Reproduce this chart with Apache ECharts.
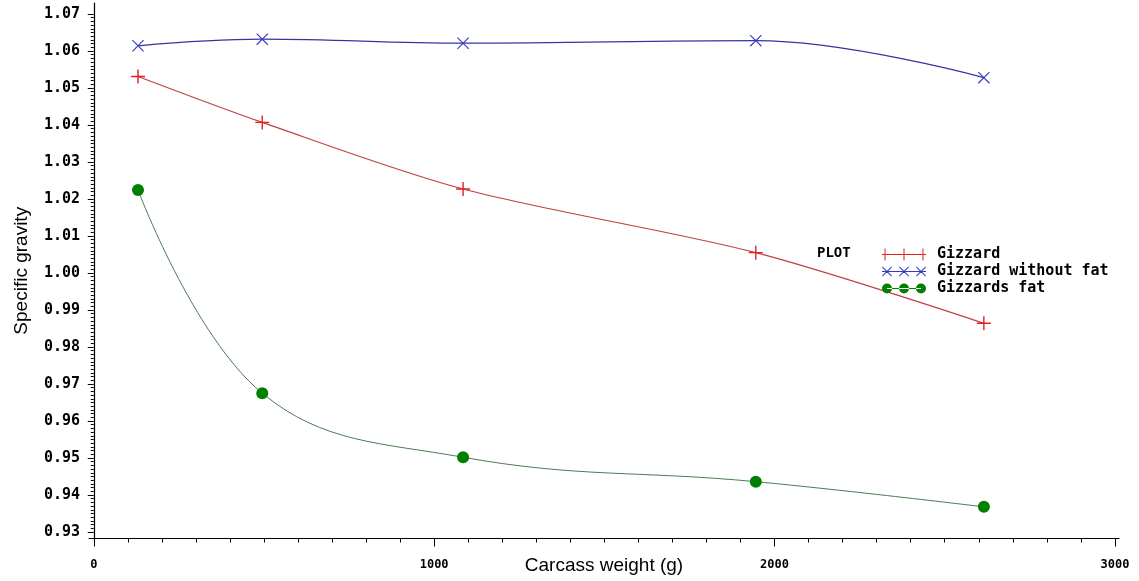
<!DOCTYPE html>
<html>
<head>
<meta charset="utf-8">
<script src="https://cdn.jsdelivr.net/npm/echarts@6/dist/echarts.min.js"></script>
<style>
  html, body { margin: 0; padding: 0; background: #fff; }
  #main { width: 1139px; height: 581px; }
</style>
</head>
<body>
<div id="main"></div>
<script>
// carcass weight (g) for each sample group
var weights = [130, 495, 1085, 1945, 2615];
// specific gravity per series
var gizzard = [1.0531, 1.0407, 1.0227, 1.0055, 0.9864];
var gizzardNoFat = [1.0614, 1.0632, 1.0621, 1.0628, 1.0528];
var gizzardFat = [1.0224, 0.9675, 0.9502, 0.9436, 0.9368];
// tick labels
var yTicks = [0.93, 0.94, 0.95, 0.96, 0.97, 0.98, 0.99, 1.00, 1.01, 1.02, 1.03, 1.04, 1.05, 1.06, 1.07];
var xTicks = [0, 1000, 2000, 3000];

function pairs(ys) {
  return weights.map(function (w, i) { return [w, ys[i]] })
}

// minor ticks: 10 per major step
function minors(ticks, step) {
  var out = []
  for (var i = 0; i < ticks.length - 1; i++) {
    for (var k = 1; k < 10; k++) out.push(+(ticks[i] + k * step / 10).toFixed(5))
  }
  return out
}

var PLUS = 'path://M-0.7,-7 H0.7 V7 H-0.7 Z M-7,-0.7 H7 V0.7 H-7 Z'
var CROSS = 'path://M-6,-5.2 L-5.2,-6 L6,5.2 L5.2,6 Z M5.2,-6 L6,-5.2 L-5.2,6 L-6,5.2 Z'

// legend icons: a line with three markers (44 x 12 box)
var plusIcon = 'path://M0,5.5 H44 V6.5 H0 Z M2.5,0 H3.5 V12 H2.5 Z M21.5,0 H22.5 V12 H21.5 Z M40.5,0 H41.5 V12 H40.5 Z'
function xAt(c) {
  return 'M' + (c - 5) + ',1.7 L' + (c - 4.3) + ',1 L' + (c + 5) + ',10.3 L' + (c + 4.3) + ',11 Z ' +
    'M' + (c + 4.3) + ',1 L' + (c + 5) + ',1.7 L' + (c - 4.3) + ',11 L' + (c - 5) + ',10.3 Z '
}
var crossIcon = 'path://M0,5.5 H44 V6.5 H0 Z ' + xAt(5) + xAt(22) + xAt(39)
function dotAt(c) {
  return 'M' + (c - 5) + ',6 a5,5 0 1,0 10,0 a5,5 0 1,0 -10,0 Z '
}
var dotIcon = 'path://M5,5.5 H39 V6.5 H5 Z ' + dotAt(5) + dotAt(22) + dotAt(39)

var axisFont = { fontFamily: 'DejaVu Sans Mono', fontWeight: 'bold', color: '#000' }

var myChart = echarts.init(document.getElementById('main'), null, { renderer: 'canvas' })
myChart.setOption({
  animation: false,
  backgroundColor: '#fff',
  grid: { left: 89, right: 20, top: 3, bottom: 42.5, outerBoundsMode: 'none', containLabel: false },
  graphic: [{
    type: 'text', left: 817, top: 246,
    style: { text: 'PLOT', font: 'bold 14px "DejaVu Sans Mono"', fill: '#000' }
  }],
  legend: {
    orient: 'vertical',
    left: 877,
    top: 242,
    itemWidth: 44,
    itemHeight: 12,
    itemGap: 2,
    selectedMode: false,
    textStyle: { fontFamily: 'DejaVu Sans Mono', fontWeight: 'bold', fontSize: 15, lineHeight: 15, color: '#000', padding: [0, 0, 0, 6] },
    data: [
      { name: 'Gizzard', icon: plusIcon },
      { name: 'Gizzard without fat', icon: crossIcon },
      { name: 'Gizzards fat', icon: dotIcon }
    ]
  },
  xAxis: [{
    type: 'value',
    min: -14,
    max: 3012,
    name: 'Carcass weight (g)',
    nameLocation: 'middle',
    nameGap: 18,
    nameMoveOverlap: false,
    nameTextStyle: { fontFamily: 'Liberation Sans', fontSize: 19, color: '#000' },
    splitLine: { show: false },
    axisLine: { show: true, lineStyle: { color: '#000', width: 1.2 } },
    axisTick: { show: true, length: 8, customValues: xTicks, lineStyle: { color: '#000' } },
    axisLabel: Object.assign({
      fontSize: 12, margin: 20, customValues: xTicks,
      formatter: function (v) { return String(v) }
    }, axisFont)
  }, {
    // minor ticks
    type: 'value',
    position: 'bottom',
    min: -14,
    max: 3012,
    splitLine: { show: false },
    axisLine: { show: false },
    axisLabel: { show: false },
    axisTick: { show: true, length: 4, customValues: minors(xTicks, 1000), lineStyle: { color: '#000' } }
  }],
  yAxis: [{
    type: 'value',
    min: 0.92824,
    max: 1.07297,
    name: 'Specific gravity',
    nameLocation: 'middle',
    nameGap: 58,
    nameMoveOverlap: false,
    nameTextStyle: { fontFamily: 'Liberation Sans', fontSize: 19, color: '#000' },
    splitLine: { show: false },
    axisLine: { show: true, lineStyle: { color: '#000', width: 1.2 } },
    axisTick: { show: true, length: 6, customValues: yTicks, lineStyle: { color: '#000' } },
    axisLabel: Object.assign({
      fontSize: 15, margin: 9, customValues: yTicks,
      formatter: function (v) { return v.toFixed(2) }
    }, axisFont)
  }, {
    // minor ticks
    type: 'value',
    position: 'left',
    min: 0.92824,
    max: 1.07297,
    splitLine: { show: false },
    axisLine: { show: false },
    axisLabel: { show: false },
    axisTick: { show: true, length: 3, customValues: minors(yTicks, 0.01), lineStyle: { color: '#000' } }
  }],
  series: [
    {
      name: 'Gizzard',
      type: 'line',
      smooth: 0.3,
      data: pairs(gizzard),
      symbol: PLUS,
      symbolSize: 14,
      itemStyle: { color: '#e02020', borderWidth: 0 },
      lineStyle: { color: '#c04040', width: 1.2 }
    },
    {
      name: 'Gizzard without fat',
      type: 'line',
      smooth: 0.4,
      data: pairs(gizzardNoFat),
      symbol: CROSS,
      symbolSize: 12,
      itemStyle: { color: '#3a3ac0', borderWidth: 0 },
      lineStyle: { color: '#3434a8', width: 1.2 }
    },
    {
      name: 'Gizzards fat',
      type: 'line',
      smooth: 0.4,
      data: pairs(gizzardFat),
      symbol: 'circle',
      symbolSize: 12,
      itemStyle: { color: '#008000', borderWidth: 0 },
      lineStyle: { color: '#4f7a4f', width: 1 }
    }
  ]
})
</script>
</body>
</html>
